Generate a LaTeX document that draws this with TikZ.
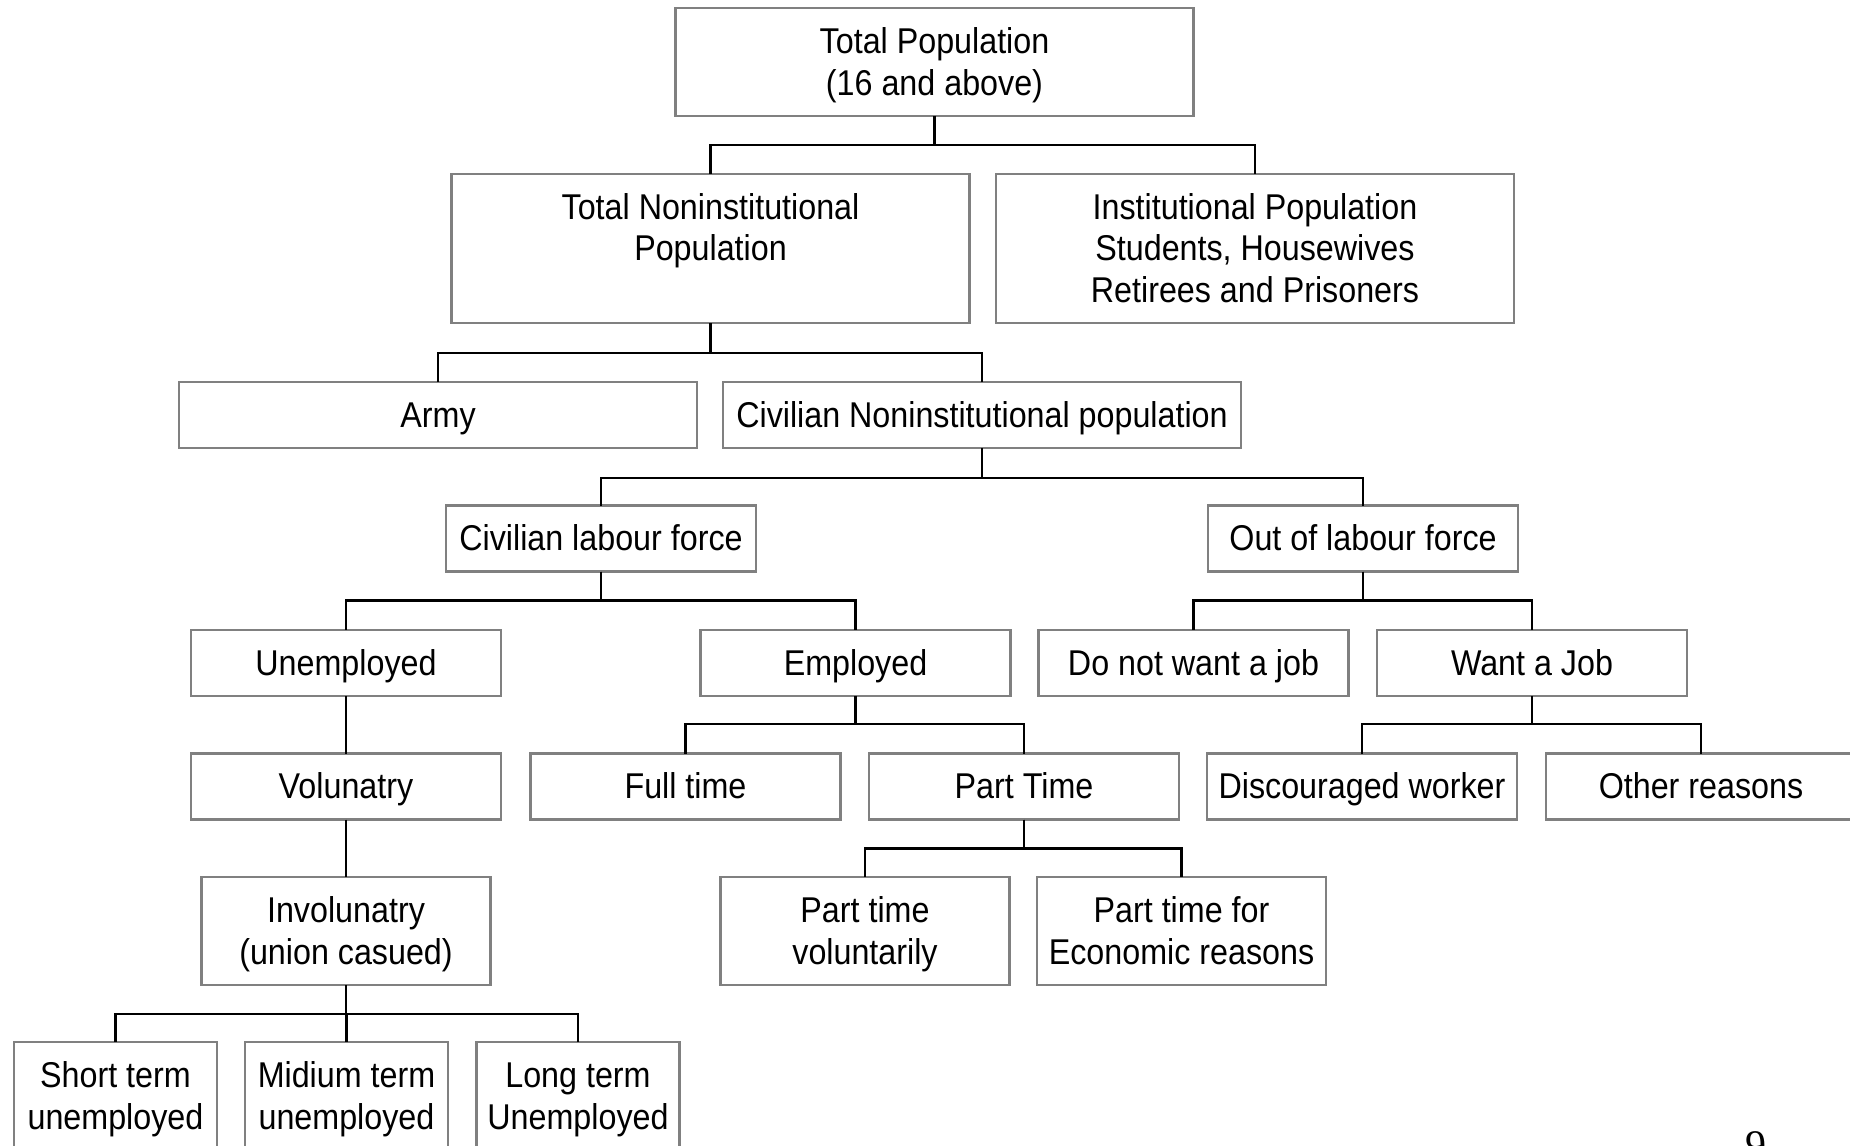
\documentclass[tikz,border=0pt]{standalone}
\usepackage{fontspec}
\setmainfont[FakeStretch=0.9]{Liberation Sans}
\newfontfamily\pagenumfont{Liberation Serif}
\usepackage{tikz}
\usetikzlibrary{positioning}
\definecolor{boxgray}{RGB}{128,128,128}

\begin{document}
\begin{tikzpicture}[
    x=1cm,y=1cm,
    pbox/.style={draw=boxgray, line width=0.6pt, align=center,
      font=\fontsize{10.2}{11.9}\selectfont, inner sep=0pt, outer sep=0pt,
      text height=8.3pt, text depth=1.2pt,
      minimum width=3.10cm, minimum height=0.66cm},
    twoline/.style={text height=20.2pt},
    threeline/.style={text height=32.1pt},
    wide/.style={pbox, minimum width=5.18cm},
    tall/.style={pbox, twoline, minimum width=2.89cm, minimum height=1.08cm},
    low/.style={pbox, twoline, minimum width=2.03cm, minimum height=1.08cm},
    link/.style={line width=0.6pt, black}
  ]
    \useasboundingbox (0,0) rectangle (18.5,-11.46);

    \node[wide, twoline, minimum height=1.08cm] (total) at (9.345,-0.62) {Total Population\\(16 and above)};
    \node[wide, twoline, text depth=13.1pt, minimum height=1.49cm] (noninst) at (7.105,-2.485) {Total Noninstitutional\\Population};
    \node[wide, threeline, minimum height=1.49cm] (inst) at (12.55,-2.485) {Institutional Population\\Students, Housewives\\Retirees and Prisoners};

    \node[wide] (army) at (4.38,-4.15) {Army};
    \node[wide] (civil) at (9.82,-4.15) {Civilian Noninstitutional population};

    \node[pbox] (labour) at (6.01,-5.385) {Civilian labour force};
    \node[pbox] (outlab) at (13.63,-5.385) {Out of labour force};

    \node[pbox] (unemp) at (3.46,-6.63) {Unemployed};
    \node[pbox] (emp) at (8.555,-6.63) {Employed};
    \node[pbox] (nowant) at (11.935,-6.63) {Do not want a job};
    \node[pbox] (want) at (15.32,-6.63) {Want a Job};

    \node[pbox] (volun) at (3.46,-7.865) {Volunatry};
    \node[pbox] (fulltime) at (6.855,-7.865) {Full time};
    \node[pbox] (parttime) at (10.24,-7.865) {Part Time};
    \node[pbox] (discour) at (13.62,-7.865) {Discouraged worker};
    \node[pbox] (other) at (17.01,-7.865) {Other reasons};

    \node[tall] (invol) at (3.46,-9.31) {Involunatry\\(union casued)};
    \node[tall] (ptvol) at (8.65,-9.31) {Part time\\voluntarily};
    \node[tall] (ptecon) at (11.815,-9.31) {Part time for\\Economic reasons};

    \node[low] (short) at (1.155,-10.96) {Short term\\unemployed};
    \node[low] (medium) at (3.465,-10.96) {Midium term\\unemployed};
    \node[low] (long) at (5.78,-10.96) {Long term\\Unemployed};

    \node[anchor=north, inner sep=0pt, font=\pagenumfont\fontsize{12}{14}\selectfont] (pagenum) at (17.56,-11.31) {9};

    \draw[link] (total.south) -- ++(0,-0.29) -| (noninst.north);
    \draw[link] (total.south) -- ++(0,-0.29) -| (inst.north);
    \draw[link] (noninst.south) -- ++(0,-0.30) -| (army.north);
    \draw[link] (noninst.south) -- ++(0,-0.30) -| (civil.north);
    \draw[link] (civil.south) -- ++(0,-0.30) -| (labour.north);
    \draw[link] (civil.south) -- ++(0,-0.30) -| (outlab.north);
    \draw[link] (labour.south) -- ++(0,-0.29) -| (unemp.north);
    \draw[link] (labour.south) -- ++(0,-0.29) -| (emp.north);
    \draw[link] (outlab.south) -- ++(0,-0.29) -| (nowant.north);
    \draw[link] (outlab.south) -- ++(0,-0.29) -| (want.north);
    \draw[link] (emp.south) -- ++(0,-0.28) -| (fulltime.north);
    \draw[link] (emp.south) -- ++(0,-0.28) -| (parttime.north);
    \draw[link] (want.south) -- ++(0,-0.28) -| (discour.north);
    \draw[link] (want.south) -- ++(0,-0.28) -| (other.north);
    \draw[link] (unemp.south) -- (volun.north);
    \draw[link] (volun.south) -- (invol.north);
    \draw[link] (parttime.south) -- ++(0,-0.29) -| (ptvol.north);
    \draw[link] (parttime.south) -- ++(0,-0.29) -| (ptecon.north);
    \draw[link] (invol.south) -- ++(0,-0.29) -| (short.north);
    \draw[link] (invol.south) -- ++(0,-0.29) -| (medium.north);
    \draw[link] (invol.south) -- ++(0,-0.29) -| (long.north);
  \end{tikzpicture}
\end{document}
